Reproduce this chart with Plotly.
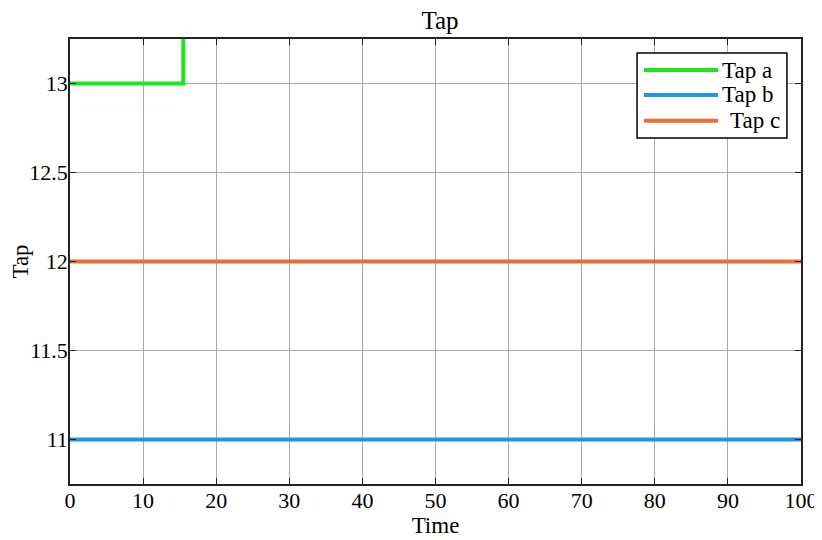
import plotly.graph_objects as go

time_a = [0, 15.5, 15.5]
tap_a = [13, 13, 14]
time_b = [0, 100]
tap_b = [11, 11]
time_c = [0, 100]
tap_c = [12, 12]

series_names = ["Tap a", "Tap b", "Tap c"]
series_colors = ["#1ee51e", "#2196e8", "#ee6d35"]

x_ticks = [0, 10, 20, 30, 40, 50, 60, 70, 80, 90, 100]
y_ticks = [11, 11.5, 12, 12.5, 13]
y_tick_text = ["11", "11.5", "12", "12.5", "13"]

font = "Liberation Serif, Times New Roman, serif"

fig = go.Figure()
for xs, ys, name, color in zip([time_a, time_b, time_c], [tap_a, tap_b, tap_c],
                               series_names, series_colors):
    fig.add_trace(go.Scatter(x=xs, y=ys, mode="lines", name=name,
                             line=dict(color=color, width=4), showlegend=False))

axis_common = dict(showline=True, linecolor="#222222", linewidth=1.5, mirror="ticks",
                   ticks="inside", ticklen=6, tickcolor="#222222",
                   showgrid=True, gridcolor="#a8a8a8", gridwidth=1,
                   zeroline=False, automargin=False, ticklabelstandoff=-4,
                   tickfont=dict(size=22, color="black", family=font))

# Legend box drawn in plot-area (paper) coordinates
legend_box = dict(x0=0.7757, x1=0.9808, y0=0.7775, y1=0.9685)
legend_rows = [0.9303, 0.8742, 0.8164]
legend_line_x = (0.7852, 0.8865)
legend_text_x = [0.8892, 0.8892, 0.8998]

shapes = [dict(type="rect", xref="paper", yref="paper", **legend_box,
               line=dict(color="black", width=1.5), fillcolor="white", layer="above")]
annotations = []
for ry, name, color, tx in zip(legend_rows, series_names, series_colors, legend_text_x):
    shapes.append(dict(type="line", xref="paper", yref="paper",
                       x0=legend_line_x[0], x1=legend_line_x[1], y0=ry, y1=ry,
                       line=dict(color=color, width=4), layer="above"))
    annotations.append(dict(text=name, xref="paper", yref="paper", x=tx, y=ry,
                            xanchor="left", yanchor="middle", showarrow=False,
                            font=dict(size=23, family=font, color="black")))

fig.update_layout(
    width=822, height=540,
    margin=dict(l=62, r=29, t=31, b=64),
    paper_bgcolor="white", plot_bgcolor="white",
    font=dict(family=font, color="black", size=22),
    title=dict(text="Tap", x=0.5255, xanchor="center", y=0.978, yanchor="middle",
               font=dict(size=25, family=font, color="black")),
    xaxis=dict(range=[0, 100], tickvals=x_ticks,
               title=dict(text="Time", font=dict(size=23, family=font), standoff=0),
               **axis_common),
    yaxis=dict(range=[10.75, 13.25], tickvals=y_ticks, ticktext=y_tick_text,
               title=dict(text="Tap", font=dict(size=23, family=font), standoff=4),
               **axis_common),
    shapes=shapes,
    annotations=annotations,
    showlegend=False,
)

fig.write_html("out.html")
